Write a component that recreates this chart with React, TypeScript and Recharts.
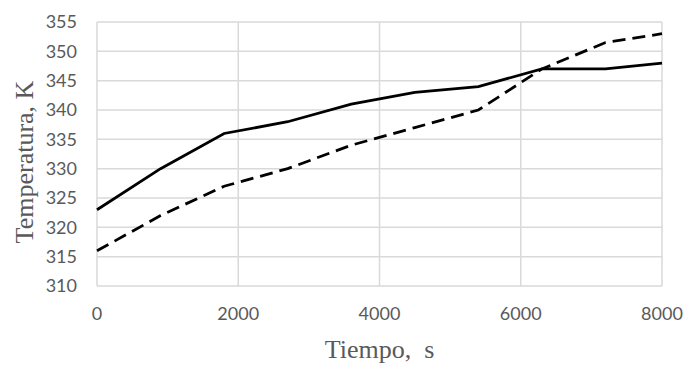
import { LineChart, Line, CartesianGrid, XAxis, YAxis } from "recharts";

const tiempo = [0, 900, 1800, 2700, 3600, 4500, 5400, 6300, 7200, 8000];
const serieSolida = [323, 330, 336, 338, 341, 343, 344, 347, 347, 348];
const serieDiscontinua = [316, 322, 327, 330, 334, 337, 340, 347, 351.5, 353];
const xTicks = [0, 2000, 4000, 6000, 8000];
const yTicks = [310, 315, 320, 325, 330, 335, 340, 345, 350, 355];

const data = tiempo.map((t, i) => ({ t, a: serieSolida[i], b: serieDiscontinua[i] }));

const gris = "#595959";
const tickStyle = { fill: gris, fontSize: 18, fontFamily: "Lato, 'Open Sans', sans-serif" };
const tituloFont = "'Liberation Serif', 'Times New Roman', serif";

const TituloY = ({ viewBox }: any) => {
	const cx = viewBox.x + 24;
	const cy = viewBox.y + viewBox.height / 2 + 8;
	return (
		<text x={cx} y={cy} transform={`rotate(-90, ${cx}, ${cy})`} textAnchor="middle" dominantBaseline="central"
			fill={gris} fontSize={26} fontFamily={tituloFont}>
			Temperatura, K
		</text>
	);
};

const TituloX = ({ viewBox }: any) => {
	const cx = viewBox.x + viewBox.width / 2;
	return (
		<text x={cx} y={viewBox.y + 72} textAnchor="middle" fill={gris} fontSize={26} fontFamily={tituloFont} xmlSpace="preserve">
			Tiempo,  s
		</text>
	);
};

export default function App() {
	return (
		<div style={{ position: "absolute", left: 0, top: 0, background: "#fff" }}>
			<LineChart width={691} height={371} data={data} margin={{ top: 22, right: 29, bottom: 0, left: 0 }}>
				<CartesianGrid stroke="#d9d9d9" strokeWidth={1.5} />
				<XAxis dataKey="t" type="number" domain={[0, 8000]} ticks={xTicks} height={85}
					axisLine={false} tickLine={false} tickMargin={15} tick={tickStyle} label={<TituloX />} />
				<YAxis type="number" domain={[310, 355]} ticks={yTicks} width={97}
					axisLine={false} tickLine={false} tickMargin={14} tick={tickStyle} label={<TituloY />} />
				<Line dataKey="a" stroke="#000" strokeWidth={2.8} dot={false} isAnimationActive={false} />
				<Line dataKey="b" stroke="#000" strokeWidth={2.8} strokeDasharray="13 7" dot={false} isAnimationActive={false} />
			</LineChart>
		</div>
	);
}
